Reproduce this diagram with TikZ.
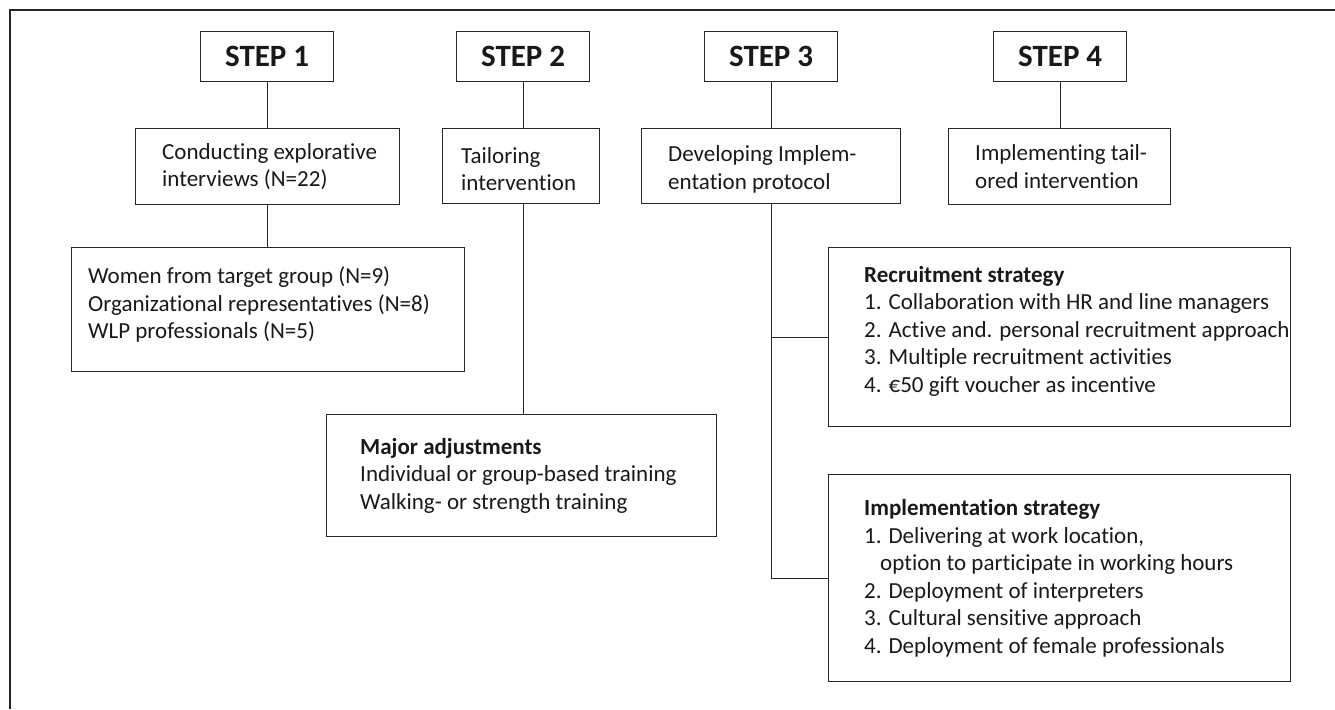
\documentclass[tikz,border=0pt]{standalone}
\usepackage{fontspec}
\setmainfont{Carlito}[Ligatures=NoCommon]
\newcommand{\bodytxt}{\fontsize{23}{27.5}\selectfont}
\newcommand{\steptxt}{\fontsize{31}{36}\selectfont\bfseries}
\tikzset{
  stepbox/.style={draw=black!85, line width=1.3pt, minimum width=133pt, minimum height=50pt, anchor=north west, inner sep=0pt, font=\steptxt, text=black!90},
  infobox/.style={draw=black!85, line width=1.3pt, anchor=north west, inner sep=0pt},
  txt/.style={anchor=west, align=left, inner sep=0pt, font=\bodytxt, text=black!90},
  link/.style={draw=black!85, line width=1.3pt}
}
\begin{document}
\begin{tikzpicture}[x=1pt,y=-1pt]
   
                \useasboundingbox (0,0) rectangle (1335,709);
                \coordinate (frameBL) at (10,709); %frame
                \coordinate (frameTL) at (10,10);
                \coordinate (frameTR) at (1335,10);
                \draw[link] (frameBL) -- (frameTL) -- (frameTR);

                \node[stepbox] (step1) at (200,31) {STEP 1}; %steps
                \node[stepbox] (step2) at (456,31) {STEP 2};
                \node[stepbox] (step3) at (704,31) {STEP 3};
                \node[stepbox] (step4) at (993,31) {STEP 4};

                \node[infobox, minimum width=264pt, minimum height=76pt] (conduct) at (135,128) {};
                \node[infobox, minimum width=157pt, minimum height=75pt] (tailor) at (442,128) {};
                \node[infobox, minimum width=259pt, minimum height=75pt] (develop) at (641,128) {};
                \node[infobox, minimum width=222pt, minimum height=76pt] (implem) at (948,128) {};
                \node[infobox, minimum width=393pt, minimum height=124pt] (women) at (71,247) {};
                \node[infobox, minimum width=390pt, minimum height=122pt] (major) at (326,414) {};
                \node[infobox, minimum width=462pt, minimum height=179pt] (recruit) at (828,247) {};
                \node[infobox, minimum width=462pt, minimum height=207pt] (strategy) at (828,474) {};

                \node[txt] (conductT) at ([xshift=27pt]conduct.west) {Conducting explorative\\interviews (N=22)};
                \node[txt] (tailorT) at ([xshift=19pt,yshift=-3pt]tailor.west) {Tailoring\\intervention};
                \node[txt] (developT) at ([xshift=27pt,yshift=-3pt]develop.west) {Developing Implem-\\entation protocol};
                \node[txt] (implemT) at ([xshift=27pt]implem.west) {Implementing tail-\\ored intervention};
                \node[txt] (womenT) at ([xshift=17pt,yshift=5pt]women.west) {Women from target group (N=9)\\Organizational representatives (N=8)\\WLP professionals (N=5)};
                \node[txt] (majorT) at ([xshift=34pt]major.west) {\textbf{Major adjustments}\\Individual or group-based training\\Walking- or strength training};
                \node[txt] (recruitT) at ([xshift=36pt,yshift=6pt]recruit.west) {\textbf{Recruitment strategy}\\1. Collaboration with HR and line managers\\2. Active and. personal recruitment approach\\3. Multiple recruitment activities\\4. €50 gift voucher as incentive};
                \node[txt] (strategyT) at ([xshift=36pt]strategy.west) {\textbf{Implementation strategy}\\1. Delivering at work location,\\\hspace*{16pt}option to participate in working hours\\2. Deployment of interpreters\\3. Cultural sensitive approach\\4. Deployment of female professionals};

                \foreach \S/\B in {step1/conduct,step2/tailor,step3/develop,step4/implem} \draw[link] (\S.south) -- (\S.south |- \B.north); %step links
                \draw[link] (step1.south |- conduct.south) -- (step1.south |- women.north);
                \draw[link] (step2.south |- tailor.south) -- (step2.south |- major.north);
                \draw[link] (step3.south |- develop.south) -- (step3.south |- strategy.west) -- (strategy.west);
                \draw[link] (step3.south |- recruit.west) -- (recruit.west);
        
            \end{tikzpicture}
\end{document}
